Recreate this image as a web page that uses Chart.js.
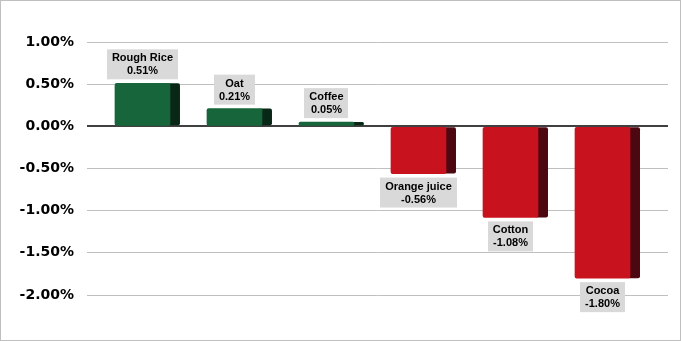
<!DOCTYPE html>
<html lang="en">
<head>
<meta charset="UTF-8">
<title>Commodities</title>
<script src="https://cdn.jsdelivr.net/npm/chart.js"></script>
<style>
    html, body { margin: 0; padding: 0; background: #fff; }
    #wrap { width: 681px; height: 341px; position: relative; }
</style>
</head>
<body>
<div id="wrap"><canvas id="grafica" width="681" height="341"></canvas></div>
<script>
    const categorias = ['Rough Rice', 'Oat', 'Coffee', 'Orange juice', 'Cotton', 'Cocoa'];
    const variacion = [0.51, 0.21, 0.05, -0.56, -1.08, -1.80];
    const ticksY = [1.0, 0.5, 0, -0.5, -1.0, -1.5, -2.0];

    const verde = '#17653a', verdeLado = '#082716';
    const rojo = '#c8121d', rojoLado = '#4d0710';

    // side face of each column + the outer frame
    const lado3d = {
        id: 'lado3d',
        beforeDatasetsDraw(chart) {
            const ctx = chart.ctx;
            chart.getDatasetMeta(0).data.forEach((bar, i) => {
                const top = Math.min(bar.y, bar.base), bot = Math.max(bar.y, bar.base);
                ctx.save();
                ctx.fillStyle = variacion[i] >= 0 ? verdeLado : rojoLado;
                ctx.beginPath();
                ctx.roundRect(bar.x + bar.width / 2 - 3, top, 13, bot - top, 2);
                ctx.fill();
                ctx.restore();
            });
        },
        afterDraw(chart) {
            const ctx = chart.ctx;
            ctx.save();
            ctx.strokeStyle = '#bfbfbf';
            ctx.lineWidth = 1;
            ctx.strokeRect(0.5, 0.5, chart.width - 1, chart.height - 1);
            ctx.restore();
        }
    };

    const etiquetas = {
        id: 'etiquetas',
        afterDatasetsDraw(chart) {
            const ctx = chart.ctx;
            ctx.save();
            ctx.font = 'bold 11px "Liberation Sans", Arial, sans-serif';
            ctx.textAlign = 'center';
            ctx.textBaseline = 'middle';
            chart.getDatasetMeta(0).data.forEach((bar, i) => {
                const l1 = categorias[i];
                const l2 = variacion[i].toFixed(2) + '%';
                const w = Math.max(ctx.measureText(l1).width, ctx.measureText(l2).width) + 10;
                const h = 30;
                const boxTop = variacion[i] >= 0 ? bar.y - 4 - h : bar.y + 4;
                ctx.fillStyle = '#d9d9d9';
                ctx.fillRect(Math.round(bar.x - w / 2), boxTop, Math.round(w), h);
                ctx.fillStyle = '#000';
                ctx.fillText(l1, bar.x, boxTop + 9);
                ctx.fillText(l2, bar.x, boxTop + 22);
            });
            ctx.restore();
        }
    };

    new Chart(document.getElementById('grafica').getContext('2d'), {
        type: 'bar',
        data: {
            datasets: [{
                data: variacion.map((v, i) => ({ x: i, y: v })),
                backgroundColor: variacion.map(v => v >= 0 ? verde : rojo),
                borderWidth: 0,
                borderRadius: 2,
                borderSkipped: false,
                barThickness: 55
            }]
        },
        options: {
            responsive: false,
            animation: false,
            events: [],
            layout: { padding: { top: 42, right: 13, bottom: 46, left: 0 } },
            plugins: { legend: { display: false }, tooltip: { enabled: false } },
            scales: {
                x: {
                    type: 'linear',
                    display: false,
                    offset: false,
                    min: -0.603,
                    max: 5.712,
                    grid: { display: false }
                },
                y: {
                    min: ticksY[ticksY.length - 1],
                    max: ticksY[0],
                    afterFit(s) { s.width = 87; },
                    afterBuildTicks(s) { s.ticks = ticksY.map(v => ({ value: v })); },
                    border: { display: false },
                    grid: {
                        drawTicks: false,
                        color: c => c.tick.value === 0 ? '#404040' : '#bfbfbf',
                        lineWidth: c => c.tick.value === 0 ? 2 : 1
                    },
                    ticks: {
                        padding: 13,
                        color: '#000',
                        font: { family: '"DejaVu Sans", Verdana, sans-serif', size: 14, weight: 'bold' },
                        callback: v => v.toFixed(2) + '%'
                    }
                }
            }
        },
        plugins: [lado3d, etiquetas]
    });
</script>
</body>
</html>
